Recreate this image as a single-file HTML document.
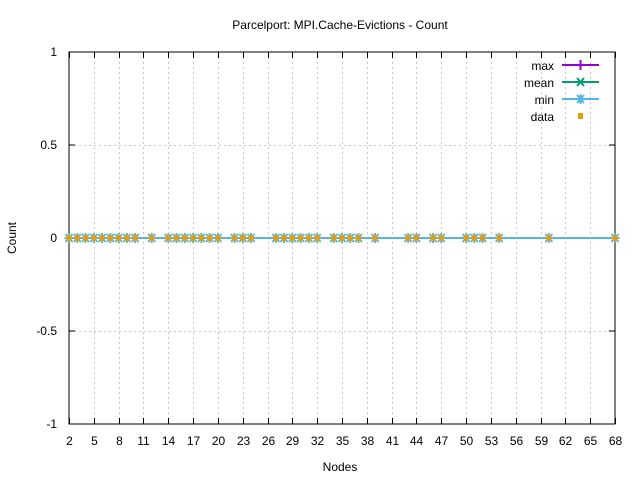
<!DOCTYPE html>
<html><head><style>body{margin:0;background:#fff}svg{display:block}text{font-family:"Liberation Sans",sans-serif;font-size:12px;fill:#000}</style></head><body>
<svg width="640" height="480" xmlns="http://www.w3.org/2000/svg">
<rect width="640" height="480" fill="#fff"/>
<g id="grid" stroke="#c8c8c8" stroke-dasharray="2,3" stroke-width="1"></g>
<rect x="69" y="52" width="546" height="372" fill="none" stroke="#000" stroke-width="1"/>
<g id="ticks" stroke="#000"></g>
<g id="labels"></g>
<text x="340" y="29" text-anchor="middle">Parcelport: MPI.Cache-Evictions - Count</text>
<text x="340" y="471" text-anchor="middle">Nodes</text>
<text transform="translate(16,238) rotate(-90)" text-anchor="middle">Count</text>
<line x1="69" y1="238" x2="615" y2="238" stroke="#56b4e9" stroke-width="2"/>
<g id="pts"></g>
<g>
<text x="554" y="70" text-anchor="end">max</text>
<line x1="562" y1="65" x2="599" y2="65" stroke="#9400d3" stroke-width="2"/>
<path d="M580.5 60v10" stroke="#9400d3" stroke-width="2"/>
<text x="554" y="87" text-anchor="end">mean</text>
<line x1="562" y1="82" x2="599" y2="82" stroke="#009e73" stroke-width="2"/>
<path d="M577 78l7 8M584 78l-7 8" stroke="#009e73" stroke-width="2"/>
<text x="554" y="104" text-anchor="end">min</text>
<line x1="562" y1="99" x2="599" y2="99" stroke="#56b4e9" stroke-width="2"/>
<path d="M577 95l7 8M584 95l-7 8M580.5 94v10M576 99h9" stroke="#56b4e9" stroke-width="2"/>
<text x="554" y="121" text-anchor="end">data</text>
<rect x="578" y="113" width="5" height="6" fill="#e69f00"/>
</g>
<script>
var ns="http://www.w3.org/2000/svg";
function el(p,t,a,txt){var e=document.createElementNS(ns,t);for(var k in a)e.setAttribute(k,a[k]);if(txt!==undefined)e.textContent=txt;document.getElementById(p).appendChild(e);}
function X(n){return 69+(n-2)*546/66;}
var ys=[[52,"1"],[145,"0.5"],[238,"0"],[331,"-0.5"],[424,"-1"]];
ys.forEach(function(y){if(y[0]>52&&y[0]<424)el("grid","line",{x1:69,x2:615,y1:y[0]+.5,y2:y[0]+.5});
el("ticks","line",{x1:69,x2:75,y1:y[0],y2:y[0]});el("ticks","line",{x1:609,x2:615,y1:y[0],y2:y[0]});
el("labels","text",{x:57,y:y[0]+4,"text-anchor":"end"},y[1]);});
for(var n=2;n<=68;n+=3){var x=Math.round(X(n))+.5;if(n>2&&n<68)el("grid","line",{x1:x,x2:x,y1:52,y2:424});
el("ticks","line",{x1:x,x2:x,y1:424,y2:418});el("ticks","line",{x1:x,x2:x,y1:52,y2:58});
el("labels","text",{x:x,y:445,"text-anchor":"middle"},String(n));}
var d=[2,3,4,5,6,7,8,9,10,12,14,15,16,17,18,19,20,22,23,24,27,28,29,30,31,32,34,35,36,37,39,43,44,46,47,50,51,52,54,60,68];
d.forEach(function(n){var x=X(n);
el("pts","path",{d:"M"+(x-3.5)+" 234l7 8M"+(x+3.5)+" 234l-7 8M"+x+" 233v10M"+(x-4.5)+" 238h9",stroke:"#56b4e9","stroke-width":2});
el("pts","rect",{x:x-2.5,y:235,width:5,height:6,fill:"#e69f00"});});
</script>
</svg>
</body></html>
